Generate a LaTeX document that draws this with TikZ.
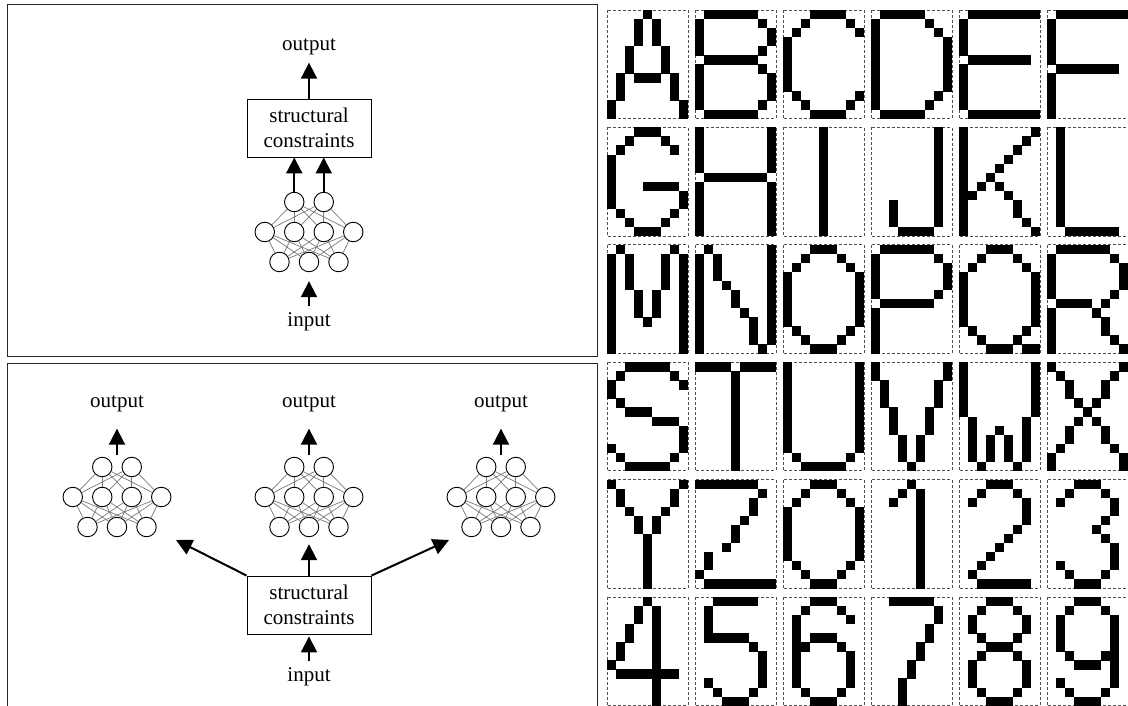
\documentclass[tikz,border=0pt]{standalone}
\usepackage{fontspec}
\setmainfont{Liberation Serif}
\usetikzlibrary{arrows.meta,positioning,calc}
\definecolor{linkgray}{HTML}{7A7A7A}
\definecolor{dashgray}{HTML}{505050}
\tikzset{neuron/.style={circle,draw,fill=white,minimum size=19.5pt,inner sep=0pt,line width=0.9pt},
 link/.style={draw=linkgray,line width=0.7pt},
 flow/.style={-{Triangle[width=16pt,length=16pt]},line width=2pt},
 scbox/.style={draw,line width=0.9pt,minimum width=124pt,minimum height=58pt,align=center,
 inner sep=0pt,font=\fontsize{21}{25.5}\selectfont},
 lbl/.style={font=\fontsize{21}{25.5}\selectfont},
 panel/.style={line width=1pt,draw=black!85},
 cellbox/.style={draw=dashgray,line width=0.9pt,dash pattern=on 3pt off 2pt},
 pxfill/.style={fill=black}}
% small three-layer network: prefix, centre x, middle-layer y
\newcommand\mlp[3]{%
 \foreach \k/\dx in {1/-14.75,2/14.75} \node[neuron] (#1-t\k) at (#2+\dx,#3-30) {};
 \foreach \k/\dx in {1/-44.25,2/-14.75,3/14.75,4/44.25} \node[neuron] (#1-m\k) at (#2+\dx,#3) {};
 \foreach \k/\dx in {1/-29.5,2/0,3/29.5} \node[neuron] (#1-b\k) at (#2+\dx,#3+30) {};
 \foreach \a in {1,2} \foreach \b in {1,...,4} \draw[link] (#1-t\a) -- (#1-m\b);
 \foreach \a in {1,...,4} \foreach \b in {1,2,3} \draw[link] (#1-m\a) -- (#1-b\b);}
% one bitmap cell of the character grid
\def\pxon#1#2{\ifnum#1=1 \fill[pxfill] ({#2*9},{\i*9.05}) rectangle ++(9.3,9.35);\fi}
\def\pixrow#1#2#3#4#5#6#7#8#9\relax{\pxon{#1}{0}\pxon{#2}{1}\pxon{#3}{2}\pxon{#4}{3}%
 \pxon{#5}{4}\pxon{#6}{5}\pxon{#7}{6}\pxon{#8}{7}\pxon{#9}{8}}
\newcommand\pixglyph[3]{\begin{scope}[shift={(607+88*#1,10+117.4*#2)}]
 \draw[cellbox] (0,0) rectangle (81,108.6);
 \foreach \r [count=\i from 0] in {#3} {\expandafter\pixrow\r\relax}
 \end{scope}}

\begin{document}
\begin{tikzpicture}[x=1pt,y=-1pt]
\useasboundingbox (0,0) rectangle (1128,706);
\draw[panel] (7,5) rectangle (597,356);
\draw[panel] (7,710) -- (7,363) -- (597,363) -- (597,710);

% top panel: one network under the constraints
\mlp{T}{309}{232}
\node[scbox] (T-box) at (309,128) {structural\\constraints};
\node[lbl] (T-out) at (309,47) {output};
\node[lbl] (T-in) at (309,322) {input};
\draw[flow,shorten >=4pt] (T-box) -- (T-out);
\foreach \k in {1,2} \draw[flow] (T-t\k) -- (T-t\k |- T-box.south);
\draw[flow,shorten >=9pt,shorten <=3pt] (T-in) -- (T-b2);

% bottom panel: constraints shared by three networks
\mlp{L}{117}{497}
\mlp{M}{309}{497}
\mlp{R}{501}{497}
\node[scbox] (B-box) at (309,605) {structural\\constraints};
\node[lbl] (B-in) at (309,677) {input};
\foreach \n/\x in {L/117,M/309,R/501} {
 \node[lbl] (\n-out) at (\x,404) {output};
 \coordinate (\n-top) at (\x,455);
 \draw[flow,shorten >=13pt] (\n-top) -- (\n-out);
}
\coordinate (L-tip) at (176,540);
\coordinate (R-tip) at (449,540);
\draw[flow] (B-box.north west) -- (L-tip);
\draw[flow] (B-box.north east) -- (R-tip);
\draw[flow,shorten >=7pt] (B-box) -- (M-b2);
\draw[flow,shorten >=2pt,shorten <=3pt] (B-in) -- (B-box);

% character grid
\pixglyph{0}{0}{000010000,000101000,000101000,000101000,001000100,001000100,001000100,010111010,010000010,010000010,100000001,100000001}
\pixglyph{1}{0}{011111100,100000010,100000001,100000001,100000010,011111100,100000010,100000001,100000001,100000001,100000010,011111100}
\pixglyph{2}{0}{000111100,001000010,010000001,100000000,100000000,100000000,100000000,100000000,100000000,010000001,001000010,000111100}
\pixglyph{3}{0}{011111000,100000100,100000010,100000001,100000001,100000001,100000001,100000001,100000001,100000010,100000100,011111000}
\pixglyph{4}{0}{011111111,100000000,100000000,100000000,100000000,011111110,100000000,100000000,100000000,100000000,100000000,011111111}
\pixglyph{5}{0}{011111111,100000000,100000000,100000000,100000000,100000000,011111110,100000000,100000000,100000000,100000000,100000000}
\pixglyph{0}{1}{000111000,001000100,010000010,100000000,100000000,100000000,100011110,100000001,100000001,010000010,001000100,000111000}
\pixglyph{1}{1}{100000001,100000001,100000001,100000001,100000001,011111110,100000001,100000001,100000001,100000001,100000001,100000001}
\pixglyph{2}{1}{000010000,000010000,000010000,000010000,000010000,000010000,000010000,000010000,000010000,000010000,000010000,000010000}
\pixglyph{3}{1}{000000010,000000010,000000010,000000010,000000010,000000010,000000010,000000010,001000010,001000010,001000010,000111100}
\pixglyph{4}{1}{100000001,100000010,100000100,100001000,100010000,100100000,101010000,110001000,100000100,100000100,100000010,100000001}
\pixglyph{5}{1}{010000000,010000000,010000000,010000000,010000000,010000000,010000000,010000000,010000000,010000000,010000000,001111110}
\pixglyph{0}{2}{010000010,101000101,101000101,101000101,101000101,100101001,100101001,100101001,100010001,100000001,100000001,100000001}
\pixglyph{1}{2}{010000001,101000001,101000001,101000001,100100001,100010001,100010001,100001001,100000101,100000101,100000101,100000010}
\pixglyph{2}{2}{000111000,001000100,010000010,100000001,100000001,100000001,100000001,100000001,100000001,010000010,001000100,000111000}
\pixglyph{3}{2}{011111100,100000010,100000001,100000001,100000001,100000010,011111100,100000000,100000000,100000000,100000000,100000000}
\pixglyph{4}{2}{000111000,001000100,010000010,100000001,100000001,100000001,100000001,100000001,100000001,010000010,001000100,000111011}
\pixglyph{5}{2}{011111100,100000010,100000001,100000001,100000001,100000010,011110100,100001000,100000100,100000100,100000010,100000001}
\pixglyph{0}{3}{001111100,010000010,100000001,100000000,010000000,001110000,000001110,000000001,000000001,100000001,010000010,001111100}
\pixglyph{1}{3}{111101111,000010000,000010000,000010000,000010000,000010000,000010000,000010000,000010000,000010000,000010000,000010000}
\pixglyph{2}{3}{100000001,100000001,100000001,100000001,100000001,100000001,100000001,100000001,100000001,100000001,010000010,001111100}
\pixglyph{3}{3}{100000001,100000001,010000010,010000010,010000010,001000100,001000100,001000100,000101000,000101000,000101000,000010000}
\pixglyph{4}{3}{100000001,100000001,100000001,100000001,100000001,100000001,010000010,010010010,010101010,010101010,010101010,001000100}
\pixglyph{5}{3}{100000001,010000010,001000100,001000100,000101000,000010000,000101000,001000100,001000100,010000010,100000001,100000001}
\pixglyph{0}{4}{100000001,010000010,010000010,001000100,000101000,000101000,000010000,000010000,000010000,000010000,000010000,000010000}
\pixglyph{1}{4}{111111100,000000010,000000100,000000100,000001000,000010000,000010000,000100000,010000000,010000000,100000000,011111111}
\pixglyph{2}{4}{000111000,001000100,010000010,100000001,100000001,100000001,100000001,100000001,100000001,010000010,001000100,000111000}
\pixglyph{3}{4}{000010000,000101000,001001000,000001000,000001000,000001000,000001000,000001000,000001000,000001000,000001000,000001000}
\pixglyph{4}{4}{000111000,001000100,010000010,000000010,000000010,000000100,000001000,000010000,000100000,001000000,010000000,001111110}
\pixglyph{5}{4}{000111000,001000100,010000010,000000010,000000100,000001000,000000100,000000010,000000010,010000010,001000100,000111000}
\pixglyph{0}{5}{000010000,000101000,000101000,001001000,001001000,010001000,010001000,100001000,011111110,000001000,000001000,000001000}
\pixglyph{1}{5}{001111100,010000000,010000000,010000000,011111000,000000100,000000010,000000010,000000010,010000010,001000100,000111000}
\pixglyph{2}{5}{000111000,001000100,010000010,010000000,010111000,011000100,010000010,010000010,010000010,010000010,001000100,000111000}
\pixglyph{3}{5}{001111100,000000010,000000010,000000100,000000100,000001000,000001000,000010000,000010000,000100000,000100000,000100000}
\pixglyph{4}{5}{000111000,001000100,010000010,010000010,001000100,000111000,001000100,010000010,010000010,010000010,001000100,000111000}
\pixglyph{5}{5}{000111000,001000100,010000010,010000010,010000010,010000010,001000110,000111010,000000010,010000010,001000100,000111000}
\end{tikzpicture}
\end{document}
